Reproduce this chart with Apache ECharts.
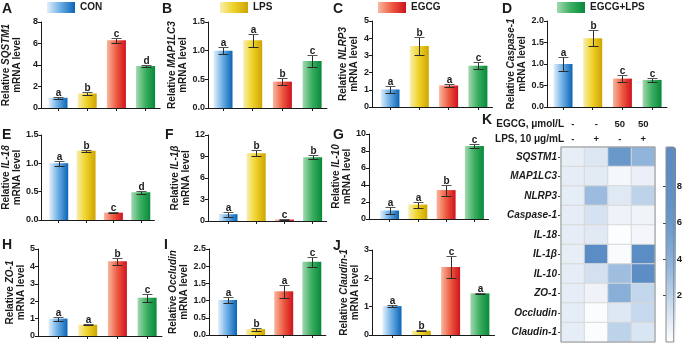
<!DOCTYPE html>
<html>
<head>
<meta charset="utf-8">
<script src="https://cdn.jsdelivr.net/npm/echarts@6/dist/echarts.min.js"></script>
<style>
  html, body { margin: 0; padding: 0; background: #fff; }
  #main { width: 685px; height: 343px; }
</style>
</head>
<body>
<div id="main"></div>
<script>
const groups = ['CON', 'LPS', 'EGCG', 'EGCG+LPS'];
const genes = ['SQSTM1', 'MAP1LC3', 'NLRP3', 'Caspase-1', 'IL-18', 'IL-1β', 'IL-10', 'ZO-1', 'Occludin', 'Claudin-1'];
const panelLetters = ['A', 'B', 'C', 'D', 'E', 'F', 'G', 'H', 'I', 'J'];

// relative mRNA level: mean, sd, letters (CON, LPS, EGCG, EGCG+LPS)
const sqstm1 = [0.95, 1.35, 6.3, 3.9];
const sqstm1Sd = [0.1, 0.1, 0.25, 0.08];
const sqstm1Sig = ['a', 'b', 'c', 'd'];

const map1lc3 = [1.0, 1.18, 0.46, 0.82];
const map1lc3Sd = [0.06, 0.11, 0.06, 0.1];
const map1lc3Sig = ['a', 'a', 'b', 'c'];

const nlrp3 = [1.02, 3.55, 1.25, 2.4];
const nlrp3Sd = [0.2, 0.5, 0.1, 0.21];
const nlrp3Sig = ['a', 'b', 'a', 'c'];

const caspase1 = [1.0, 1.6, 0.66, 0.63];
const caspase1Sd = [0.16, 0.19, 0.09, 0.05];
const caspase1Sig = ['a', 'b', 'c', 'c'];

const il18 = [1.0, 1.22, 0.13, 0.49];
const il18Sd = [0.04, 0.015, 0.01, 0.03];
const il18Sig = ['a', 'b', 'c', 'd'];

const il1b = [0.95, 9.45, 0.2, 8.9];
const il1bSd = [0.35, 0.4, 0.05, 0.25];
const il1bSig = ['a', 'b', 'c', 'b'];

const il10 = [1.0, 1.7, 3.4, 8.6];
const il10Sd = [0.4, 0.35, 0.65, 0.27];
const il10Sig = ['a', 'a', 'b', 'c'];

const zo1 = [1.0, 0.65, 4.3, 2.2];
const zo1Sd = [0.12, 0.02, 0.2, 0.22];
const zo1Sig = ['a', 'a', 'b', 'c'];

const occludin = [1.02, 0.17, 1.27, 2.13];
const occludinSd = [0.09, 0.045, 0.18, 0.15];
const occludinSig = ['a', 'b', 'a', 'c'];

const claudin1 = [1.02, 0.15, 2.4, 1.47];
const claudin1Sd = [0.04, 0.02, 0.39, 0.02];
const claudin1Sig = ['a', 'b', 'c', 'a'];

const means = [sqstm1, map1lc3, nlrp3, caspase1, il18, il1b, il10, zo1, occludin, claudin1];
const sds = [sqstm1Sd, map1lc3Sd, nlrp3Sd, caspase1Sd, il18Sd, il1bSd, il10Sd, zo1Sd, occludinSd, claudin1Sd];
const sigs = [sqstm1Sig, map1lc3Sig, nlrp3Sig, caspase1Sig, il18Sig, il1bSig, il10Sig, zo1Sig, occludinSig, claudin1Sig];

// y axis scales
const yMax = [8, 1.5, 5, 2, 1.5, 12, 10, 5, 2.5, 3];
const yStep = [2, 0.5, 1, 0.5, 0.5, 3, 2, 1, 0.5, 1];
const yDecimals = [0, 1, 0, 1, 1, 0, 0, 0, 1, 0];

// heatmap header + colour scale ticks
const egcgDose = ['-', '-', '50', '50'];
const lpsDose = ['-', '+', '-', '+'];
const scaleTicks = [2, 4, 6, 8];

const INK = '#1a1a1a';
const FONT = '"Liberation Sans", Arial, Helvetica, sans-serif';

// panel placement: y axis x, first bar centre, bar spacing, name gap
const layout = [
  { axisX: 41, top: 22, h: 86, first: 58, sp: 29.2, gap: 18 },
  { axisX: 208, top: 22, h: 86, first: 223, sp: 29.7, gap: 16 },
  { axisX: 372, top: 21, h: 86, first: 390, sp: 29.3, gap: 12 },
  { axisX: 547, top: 21, h: 86, first: 563, sp: 29.7, gap: 15 },
  { axisX: 40, top: 135, h: 85, first: 57.5, sp: 27.7, gap: 18 },
  { axisX: 208, top: 135, h: 86, first: 228, sp: 28.2, gap: 11 },
  { axisX: 369, top: 134, h: 85, first: 389.5, sp: 28.3, gap: 9 },
  { axisX: 38, top: 249, h: 87, first: 58, sp: 29.7, gap: 11 },
  { axisX: 209, top: 249, h: 86, first: 227.5, sp: 28.1, gap: 16 },
  { axisX: 372, top: 250, h: 85, first: 392, sp: 29.3, gap: 9 }
];
const letterPos = [[2, 2], [162, 2], [333, 2], [502, 2], [2, 128], [165, 128], [333, 128], [2, 238], [164, 238], [333, 239]];

function grad(stops) {
  return {
    type: 'linear', x: 0, y: 0, x2: 1, y2: 0,
    colorStops: stops.map(s => ({ offset: s[0], color: s[1] }))
  };
}
const barFill = [
  grad([[0, '#e4f0fb'], [0.45, '#72b2e7'], [1, '#0a64b6']]),
  grad([[0, '#f8eeb2'], [0.45, '#f0d52c'], [1, '#cfa400']]),
  grad([[0, '#f8b8a0'], [0.5, '#ee5a40'], [1, '#cf121d']]),
  grad([[0, '#a2d9b0'], [0.5, '#3aae60'], [1, '#08893b']])
];

const richName = {
  n: { fontSize: 10, fontWeight: 'bold', fontFamily: FONT, color: INK, lineHeight: 11 },
  i: { fontSize: 10, fontWeight: 'bold', fontStyle: 'italic', fontFamily: FONT, color: INK, lineHeight: 11 }
};

function errorBars(letters) {
  return function (params, api) {
    const x = api.value(0), m = api.value(1), s = api.value(2);
    const hi = api.coord([x, m + s]);
    const lo = api.coord([x, m - s]);
    const cx = Math.round(hi[0]) + 0.5;
    const yh = Math.round(hi[1]) + 0.5, yl = Math.round(lo[1]) + 0.5;
    const w = 5;
    const st = { stroke: '#2b2b2b', lineWidth: 1 };
    return {
      type: 'group',
      children: [
        { type: 'line', shape: { x1: cx, y1: yh, x2: cx, y2: yl }, style: st },
        { type: 'line', shape: { x1: cx - w, y1: yh, x2: cx + w, y2: yh }, style: { stroke: '#555', lineWidth: 1 } },
        { type: 'line', shape: { x1: cx - w, y1: yl, x2: cx + w, y2: yl }, style: st },
        {
          type: 'text',
          style: {
            text: letters[params.dataIndex], x: cx, y: yh + 1,
            align: 'center', verticalAlign: 'bottom',
            font: 'bold 10px ' + FONT, fill: INK
          }
        }
      ]
    };
  };
}

const grids = [], xAxes = [], yAxes = [], series = [];

layout.forEach((p, k) => {
  const xmin = (p.axisX - p.first) / p.sp;
  grids.push({ left: p.axisX, top: p.top, width: (3.5 - xmin) * p.sp, height: p.h });
  xAxes.push({
    gridIndex: k, type: 'value', min: xmin, max: 3.5,
    axisLine: { onZero: false, lineStyle: { color: INK, width: 1 } },
    axisTick: { show: true, customValues: [0, 1, 2, 3], length: 3, lineStyle: { color: INK } },
    axisLabel: { show: false },
    splitLine: { show: false }
  });
  yAxes.push({
    gridIndex: k, type: 'value', min: 0, max: yMax[k], interval: yStep[k],
    name: '{n|Relative }{i|' + genes[k] + '}\n{n|mRNA level}',
    nameLocation: 'middle', nameRotate: 90, nameGap: p.gap,
    nameTextStyle: { rich: richName },
    axisLine: { show: true, onZero: false, lineStyle: { color: INK, width: 1 } },
    axisTick: { show: true, length: 3, lineStyle: { color: INK } },
    axisLabel: {
      margin: 3, fontSize: 9, fontWeight: 'bold', fontFamily: FONT, color: INK,
      formatter: v => v.toFixed(yDecimals[k])
    },
    splitLine: { show: false }
  });
  series.push({
    type: 'bar', xAxisIndex: k, yAxisIndex: k, barWidth: 19, silent: true,
    data: means[k].map((v, i) => ({ value: [i, v], itemStyle: { color: barFill[i] } }))
  });
  series.push({
    type: 'custom', xAxisIndex: k, yAxisIndex: k, silent: true, z: 3,
    renderItem: errorBars(sigs[k]),
    data: means[k].map((v, i) => [i, v, sds[k][i]])
  });
});

// K heatmap
grids.push({
  left: 561, top: 147, width: 94, height: 195,
  show: true, borderColor: '#9a9a9a', borderWidth: 1, backgroundColor: 'transparent', z: 5
});
const headerText = { fontSize: 10, fontWeight: 'bold', fontFamily: FONT, color: INK };
xAxes.push({
  gridIndex: 10, type: 'category', position: 'top', offset: 18, data: egcgDose,
  name: 'EGCG, μmol/L', nameLocation: 'start', nameGap: -3,
  nameTextStyle: Object.assign({ verticalAlign: 'bottom', align: 'right' }, headerText),
  axisLine: { show: false }, axisTick: { show: false },
  axisLabel: { margin: 0, fontSize: 9.5, fontWeight: 'bold', fontFamily: FONT, color: INK }
});
xAxes.push({
  gridIndex: 10, type: 'category', position: 'top', offset: 3, data: lpsDose,
  name: 'LPS, 10 μg/mL', nameLocation: 'start', nameGap: -3,
  nameTextStyle: Object.assign({ verticalAlign: 'bottom', align: 'right' }, headerText),
  axisLine: { show: false }, axisTick: { show: false },
  axisLabel: { margin: 0, fontSize: 9.5, fontWeight: 'bold', fontFamily: FONT, color: INK }
});
yAxes.push({
  gridIndex: 10, type: 'category', data: genes, inverse: true,
  axisLine: { show: false },
  axisTick: { show: true, alignWithLabel: true, length: 3, lineStyle: { color: '#444' } },
  axisLabel: { margin: 4, fontSize: 10, fontWeight: 'bold', fontStyle: 'italic', fontFamily: FONT, color: INK },
  splitLine: { show: false }
});
const heatData = [];
means.forEach((row, r) => row.forEach((v, c) => heatData.push([c, r, v])));
const heatIndex = series.length;
series.push({
  type: 'heatmap', xAxisIndex: 11, yAxisIndex: 10, silent: true,
  itemStyle: { borderColor: '#d8d8d8', borderWidth: 1 },
  data: heatData
});

// colour scale labels
grids.push({
  left: 666, top: 147, width: 10, height: 195,
  show: true, borderColor: '#8a8a8a', borderWidth: 1, backgroundColor: 'transparent', z: 6
});
xAxes.push({ gridIndex: 11, type: 'value', show: false });
yAxes.push({
  gridIndex: 11, type: 'value', position: 'right', min: -0.6, max: 10.2,
  axisLine: { show: false },
  axisTick: { show: true, inside: true, length: 3, customValues: scaleTicks, lineStyle: { color: '#444' } },
  axisLabel: { margin: 3, customValues: scaleTicks, fontSize: 9.5, fontWeight: 'bold', fontFamily: FONT, color: INK },
  splitLine: { show: false }
});

// hidden grid that carries the legend series
grids.push({ left: 0, top: 0, width: 1, height: 1 });
xAxes.push({ gridIndex: 12, type: 'category', show: false, data: ['x'] });
yAxes.push({ gridIndex: 12, type: 'value', show: false });
groups.forEach((g, i) => {
  series.push({ type: 'bar', name: g, xAxisIndex: 13, yAxisIndex: 12, data: [], itemStyle: { color: barFill[i] } });
});

const legendLeft = [47, 220, 378, 557];
const legends = groups.map((g, i) => ({
  data: [g], left: legendLeft[i], top: 2, padding: 0, icon: 'rect',
  itemWidth: 28, itemHeight: 11, itemGap: 0, selectedMode: false,
  textStyle: { fontSize: 10, fontWeight: 'bold', fontFamily: FONT, color: INK }
}));

const titles = panelLetters.map((t, k) => ({
  text: t, left: letterPos[k][0], top: letterPos[k][1], padding: 0,
  textStyle: { fontSize: 14, fontWeight: 'bold', fontFamily: FONT, color: INK }
}));
titles.push({
  text: 'K', left: 482, top: 113, padding: 0,
  textStyle: { fontSize: 14, fontWeight: 'bold', fontFamily: FONT, color: INK }
});

const chart = echarts.init(document.getElementById('main'));
chart.setOption({
  backgroundColor: '#fff',
  animation: false,
  title: titles,
  legend: legends,
  grid: grids,
  xAxis: xAxes,
  yAxis: yAxes,
  visualMap: {
    type: 'continuous', seriesIndex: heatIndex, min: 0, max: 10,
    orient: 'vertical', left: 666, top: 147, itemWidth: 10, itemHeight: 195,
    padding: 0, calculable: false,
    inRange: {
      color: ['#ffffff', '#e6edf6', '#c9dbee', '#abc6e3', '#8eb3d9', '#7ba6d2',
              '#6c9bcc', '#6394c8', '#5e90c6', '#5b8dc5', '#5a8bc4']
    }
  },
  series: series
});
</script>
</body>
</html>
